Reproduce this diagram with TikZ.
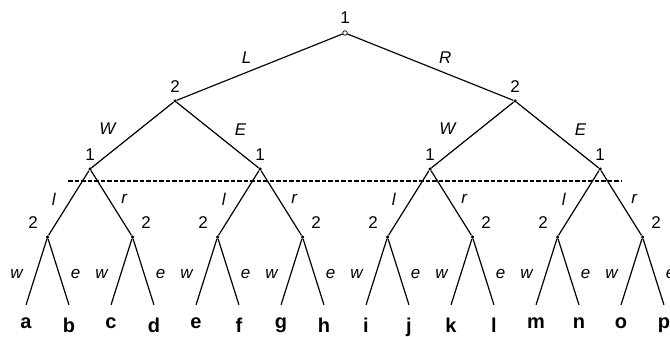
\documentclass[tikz,border=0pt]{standalone}
\usepackage{fontspec}
\setmainfont{Liberation Sans}
\usetikzlibrary{positioning}
\tikzset{%
	node dot/.style={circle, fill, inner sep=0pt, minimum size=3.5pt},
	node root/.style={circle, draw, fill=white, inner sep=0pt, minimum size=4.5pt, line width=0.7pt},
	node leaf/.style={inner sep=0pt, minimum size=0pt},
	num above/.style={label={[inner sep=0pt, label distance=6.5pt]above:#1}},
	num left/.style={label={[inner sep=0pt, shift={(-14.5pt,14pt)}]center:#1}},
	num right/.style={label={[inner sep=0pt, shift={(13.5pt,14pt)}]center:#1}},
	leaf name/.style={label={[inner sep=0pt, label distance=12.5pt, font=\bfseries\fontsize{20}{20}\selectfont]below:#1}},
	move lab/.style={midway, inner sep=0pt, shift={#1}, font=\itshape\fontsize{17}{17}\selectfont},
	lab L/.style={move lab={(-13pt,9pt)}}, lab R/.style={move lab={(15pt,9pt)}},
	lab W/.style={move lab={(-25pt,6pt)}}, lab E/.style={move lab={(23pt,5pt)}},
	lab l/.style={move lab={(-15pt,4pt)}}, lab r/.style={move lab={(13pt,4pt)}},
	lab w/.style={move lab={(-20pt,-2pt)}}, lab e/.style={move lab={(17pt,-2pt)}},
	cut line/.style={dashed, dash pattern=on 4.5pt off 2pt, line width=1.1pt},
}
\begin{document}
\begin{tikzpicture}[
			level distance=68pt,
			every label/.style={font=\fontsize{17}{17}\selectfont},
			edge from parent/.style={draw, line width=1.2pt},
			level 1/.style={sibling distance=340pt},
			level 2/.style={sibling distance=170pt},
			level 3/.style={sibling distance=85pt},
			level 4/.style={sibling distance=43pt}
			]
			\useasboundingbox (0,0) rectangle (670pt,-337pt);
			
			% the game tree
			\node[node root, num above=1] (top) at (345pt,-33pt) {}
			child {node[node dot, num above=2] (L) {}
				child {node[node dot, num above=1] (LW) {}
					child {node[node dot, num left=2] (LWl) {}
						child {node[node leaf, leaf name=a] (a) {} edge from parent node[lab w] {w}}
						child {node[node leaf, leaf name=b] (b) {} edge from parent node[lab e] {e}}
						edge from parent node[lab l] {l}}
					child {node[node dot, num right=2] (LWr) {}
						child {node[node leaf, leaf name=c] (c) {} edge from parent node[lab w] {w}}
						child {node[node leaf, leaf name=d] (d) {} edge from parent node[lab e] {e}}
						edge from parent node[lab r] {r}}
					edge from parent node[lab W] {W}}
				child {node[node dot, num above=1] (LE) {}
					child {node[node dot, num left=2] (LEl) {}
						child {node[node leaf, leaf name=e] (e) {} edge from parent node[lab w] {w}}
						child {node[node leaf, leaf name=f] (f) {} edge from parent node[lab e] {e}}
						edge from parent node[lab l] {l}}
					child {node[node dot, num right=2] (LEr) {}
						child {node[node leaf, leaf name=g] (g) {} edge from parent node[lab w] {w}}
						child {node[node leaf, leaf name=h] (h) {} edge from parent node[lab e] {e}}
						edge from parent node[lab r] {r}}
					edge from parent node[lab E] {E}}
				edge from parent node[lab L] {L}}
			child {node[node dot, num above=2] (R) {}
				child {node[node dot, num above=1] (RW) {}
					child {node[node dot, num left=2] (RWl) {}
						child {node[node leaf, leaf name=i] (i) {} edge from parent node[lab w] {w}}
						child {node[node leaf, leaf name=j] (j) {} edge from parent node[lab e] {e}}
						edge from parent node[lab l] {l}}
					child {node[node dot, num right=2] (RWr) {}
						child {node[node leaf, leaf name=k] (k) {} edge from parent node[lab w] {w}}
						child {node[node leaf, leaf name=l] (l) {} edge from parent node[lab e] {e}}
						edge from parent node[lab r] {r}}
					edge from parent node[lab W] {W}}
				child {node[node dot, num above=1] (RE) {}
					child {node[node dot, num left=2] (REl) {}
						child {node[node leaf, leaf name=m] (m) {} edge from parent node[lab w] {w}}
						child {node[node leaf, leaf name=n] (n) {} edge from parent node[lab e] {e}}
						edge from parent node[lab l] {l}}
					child {node[node dot, num right=2] (REr) {}
						child {node[node leaf, leaf name=o] (o) {} edge from parent node[lab w] {w}}
						child {node[node leaf, leaf name=p] (p) {} edge from parent node[lab e] {e}}
						edge from parent node[lab r] {r}}
					edge from parent node[lab E] {E}}
				edge from parent node[lab R] {R}};
			
			% information cut
			\coordinate (cut west) at (68pt,-181pt);
			\coordinate (cut east) at (622pt,-181pt);
			\draw[cut line] (cut west) -- (cut east);
		\end{tikzpicture}
\end{document}
